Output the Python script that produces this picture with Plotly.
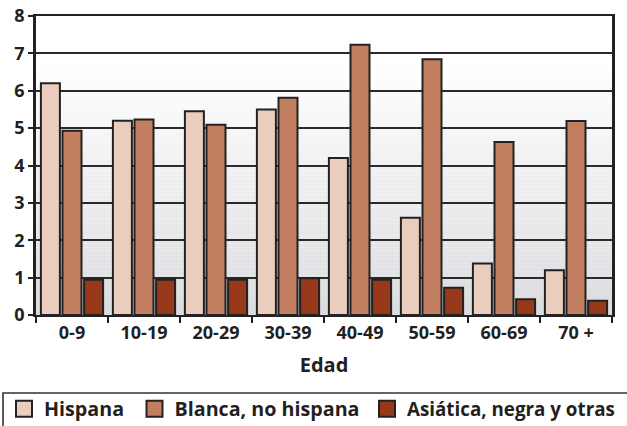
import plotly.graph_objects as go

categories = ["0-9", "10-19", "20-29", "30-39", "40-49", "50-59", "60-69", "70 +"]
series_names = ["Hispana", "Blanca, no hispana", "Asiática, negra y otras"]
hispana = [6.2, 5.2, 5.45, 5.5, 4.2, 2.6, 1.38, 1.2]
blanca = [4.93, 5.23, 5.09, 5.81, 7.23, 6.84, 4.63, 5.19]
asiatica = [0.94, 0.94, 0.94, 0.98, 0.94, 0.73, 0.42, 0.38]
y_ticks = [0, 1, 2, 3, 4, 5, 6, 7, 8]
x_title = "Edad"

colors = ["#EACDBE", "#C17E61", "#98381A"]
edge = "#222222"
txt = "#231F20"
FONT = "Open Sans"

W, H = 627, 426
ml, mr, mt, mb = 36, 15, 16, 111
pw, ph = W - ml - mr, H - mt - mb
def px(xp):
    return (xp - ml) / pw
def py(yp):
    return (H - mb - yp) / ph

legend_ids = ["legend", "legend2", "legend3"]
legend_left = [4, 134.5, 367]
legend_size = [19.7, 19.7, 18.8]

fig = go.Figure()
for name, vals, col in zip(series_names, [hispana, blanca, asiatica], colors):
    fig.add_trace(go.Bar(
        x=categories, y=vals, name=name, marker_color=col,
        marker_line=dict(color=edge, width=2), showlegend=False,
        legendgroup=name,
    ))
# legend entries with larger square swatches
for name, col, lid in zip(series_names, colors, legend_ids):
    fig.add_trace(go.Scatter(
        x=[None], y=[None], mode="markers", name=name, legendgroup=name, legend=lid,
        marker=dict(symbol="square", size=18, color=col, line=dict(color=edge, width=2)),
    ))

# background gradient (white top -> light grey bottom)
shapes = []
n = 75
top = (255, 255, 255)
bot = (218, 220, 223)
for i in range(n):
    t = (i + 0.5) / n  # 0 at bottom, 1 at top
    f = min(1.0, t / 0.85)
    c = tuple(int(round(bot[k] + (top[k] - bot[k]) * f)) for k in range(3))
    shapes.append(dict(type="rect", xref="paper", yref="paper",
                       x0=0, x1=1, y0=i / n, y1=(i + 1) / n,
                       fillcolor="rgb(%d,%d,%d)" % c, line=dict(width=0), layer="below"))
# legend frame
shapes.append(dict(type="rect", xref="paper", yref="paper",
                   x0=px(3), x1=px(640), y0=py(393), y1=py(440),
                   line=dict(color="#333333", width=1.6), fillcolor="rgba(0,0,0,0)", layer="above"))

layout_legends = {
    lid: dict(orientation="h", xanchor="left", x=px(xl), y=py(409), yanchor="middle",
              bgcolor="rgba(0,0,0,0)", borderwidth=0,
              font=dict(family=FONT, size=fs, color=txt, weight=700),
              itemclick=False, itemdoubleclick=False)
    for lid, xl, fs in zip(legend_ids, legend_left, legend_size)
}

fig.update_layout(
    width=W, height=H,
    margin=dict(l=ml, r=mr, t=mt, b=mb, pad=0, autoexpand=False),
    paper_bgcolor="white", plot_bgcolor="white",
    barmode="group", bargap=0.1, bargroupgap=0.12,
    font=dict(family=FONT, color=txt, size=16, weight=700),
    shapes=shapes,
    showlegend=True,
    **layout_legends,
    xaxis=dict(
        type="category", tickson="boundaries", ticks="outside", ticklen=6,
        tickwidth=1.8, tickcolor=edge, showline=True, linecolor=edge, linewidth=2,
        mirror=True, showgrid=False, tickfont=dict(size=18, weight=700),
        automargin=False,
        title=dict(text=x_title, font=dict(size=20, weight=700), standoff=15),
    ),
    yaxis=dict(
        range=[0, 8], tickvals=y_ticks, ticks="outside", ticklen=5,
        tickwidth=1.8, tickcolor=edge, showline=True, linecolor=edge, linewidth=2.5,
        mirror=True, showgrid=True, gridcolor="#2a2a2a", gridwidth=1.8,
        zeroline=False, tickfont=dict(size=18, weight=700), automargin=False,
    ),
)

fig.write_html("out.html", config={"displayModeBar": False},
               post_script="document.body.style.margin='0';document.body.style.padding='0';")
